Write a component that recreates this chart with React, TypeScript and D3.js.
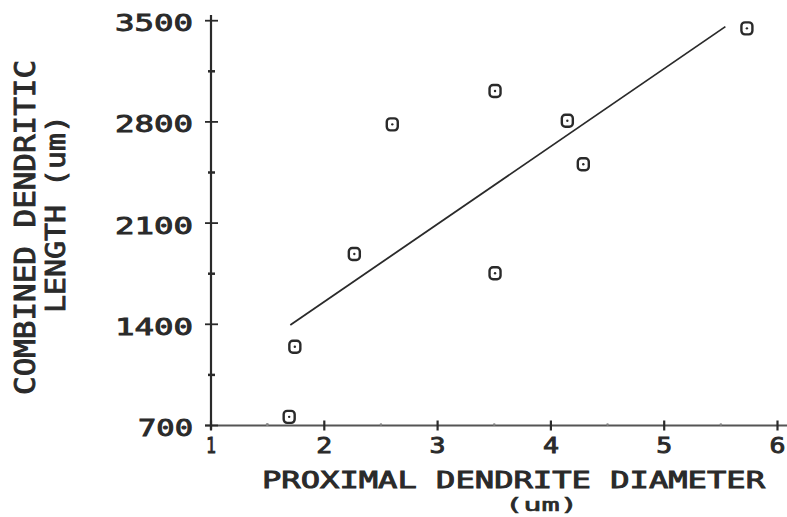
import React from "react";
import * as d3 from "d3";

const diameter = [1.69, 1.74, 2.265, 2.6, 3.507, 3.507, 4.145, 4.286, 5.73];
const dendriticLength = [760, 1245, 1886, 2783, 3014, 1753, 2808, 2507, 3447];
const fitX = [1.7, 5.54];
const fitY = [1395, 3459];
const xTicks = [1, 2, 3, 4, 5, 6];
const yTicks = [700, 1400, 2100, 2800, 3500];
const xTitle = "PROXIMAL DENDRITE DIAMETER";
const xUnit = "(um)";
const yTitle1 = "COMBINED DENDRITIC";
const yTitle2 = "LENGTH (um)";

const W = 787;
const H = 517;
const FONT = "'DejaVu Sans Mono', 'Liberation Mono', monospace";
const INK = "#2a2a2a";

const textStyle = {
  fontFamily: FONT,
  fontWeight: 400 as const,
  fill: INK,
  stroke: INK,
  strokeWidth: 0.9,
};

export default function App() {
  const x = d3.scaleLinear().domain([1, 6]).range([211, 777.5]);
  const y = d3.scaleLinear().domain([700, 3500]).range([425.5, 20.7]);
  const xMinor = d3.pairs(xTicks).map(([a, b]) => (a + b) / 2);
  const yMinor = d3.pairs(yTicks).map(([a, b]) => (a + b) / 2);
  const line = d3
    .line<number>()
    .x((_, i) => x(fitX[i]))
    .y((_, i) => y(fitY[i]));

  return (
    <svg
      width={W}
      height={H}
      style={{ position: "absolute", left: 0, top: 0, background: "#fff" }}
    >
      <rect x={0} y={0} width={W} height={H} fill="#fff" />
      {/* x axis */}
      <line x1={205} x2={787} y1={y(700)} y2={y(700)} stroke="#555" strokeWidth={2.2} />
      {xTicks.map((t) => (
        <line key={"xt" + t} x1={x(t)} x2={x(t)} y1={y(700) - 5} y2={y(700) + 5} stroke={INK} strokeWidth={2.2} />
      ))}
      {xMinor.map((t) => (
        <circle key={"xm" + t} cx={x(t)} cy={y(700) - 1} r={1.3} fill="#888" />
      ))}
      <circle cx={x(1) + 56} cy={y(700) - 1} r={1.3} fill="#888" />
      {/* y axis */}
      <line x1={x(1)} x2={x(1)} y1={y(700) + 4} y2={15} stroke={INK} strokeWidth={2.2} />
      {yTicks.map((t) => (
        <line key={"yt" + t} x1={x(1) - 6} x2={x(1) + 7} y1={y(t)} y2={y(t)} stroke={INK} strokeWidth={1.8} />
      ))}
      {yMinor.map((t) => (
        <line key={"ym" + t} x1={x(1) - 3} x2={x(1) + 4} y1={y(t)} y2={y(t)} stroke={INK} strokeWidth={2.5} />
      ))}
      {/* tick labels */}
      {yTicks.map((t) => (
        <text
          key={"yl" + t}
          x={193}
          y={y(t) + 10.5}
          textAnchor="end"
          fontSize={23}
          style={textStyle}
          textLength={String(t).length === 4 ? 78 : 55}
          lengthAdjust="spacingAndGlyphs"
        >
          {t}
        </text>
      ))}
      {xTicks.map((t) => (
        <text
          key={"xl" + t}
          x={x(t)}
          y={453}
          textAnchor="middle"
          fontSize={22}
          style={textStyle}
          textLength={t === 1 ? 10 : 16}
          lengthAdjust="spacingAndGlyphs"
        >
          {t}
        </text>
      ))}
      {/* titles */}
      <text
        x={262}
        y={488}
        fontSize={23}
        style={textStyle}
        textLength={503}
        lengthAdjust="spacingAndGlyphs"
      >
        {xTitle}
      </text>
      <text
        x={505}
        y={511}
        fontSize={18}
        style={{ ...textStyle, strokeWidth: 0.6 }}
        textLength={73}
        lengthAdjust="spacingAndGlyphs"
      >
        {xUnit}
      </text>
      <text
        transform={`translate(35,227.5) rotate(-90)`}
        textAnchor="middle"
        fontSize={28}
        style={textStyle}
        textLength={335}
        lengthAdjust="spacingAndGlyphs"
      >
        {yTitle1}
      </text>
      <text
        transform={`translate(65,214) rotate(-90)`}
        textAnchor="middle"
        fontSize={27}
        style={textStyle}
        textLength={198}
        lengthAdjust="spacingAndGlyphs"
      >
        {yTitle2}
      </text>
      {/* fit line */}
      <path d={line(fitX) || ""} fill="none" stroke={INK} strokeWidth={1.8} />
      {/* points */}
      {diameter.map((d, i) => (
        <g key={"p" + i} transform={`translate(${x(d)},${y(dendriticLength[i])})`}>
          <rect x={-5.5} y={-6} width={11} height={12} rx={3.5} fill="#fff" stroke={INK} strokeWidth={2.4} />
          <circle cx={0} cy={0} r={1.2} fill={INK} />
        </g>
      ))}
    </svg>
  );
}
